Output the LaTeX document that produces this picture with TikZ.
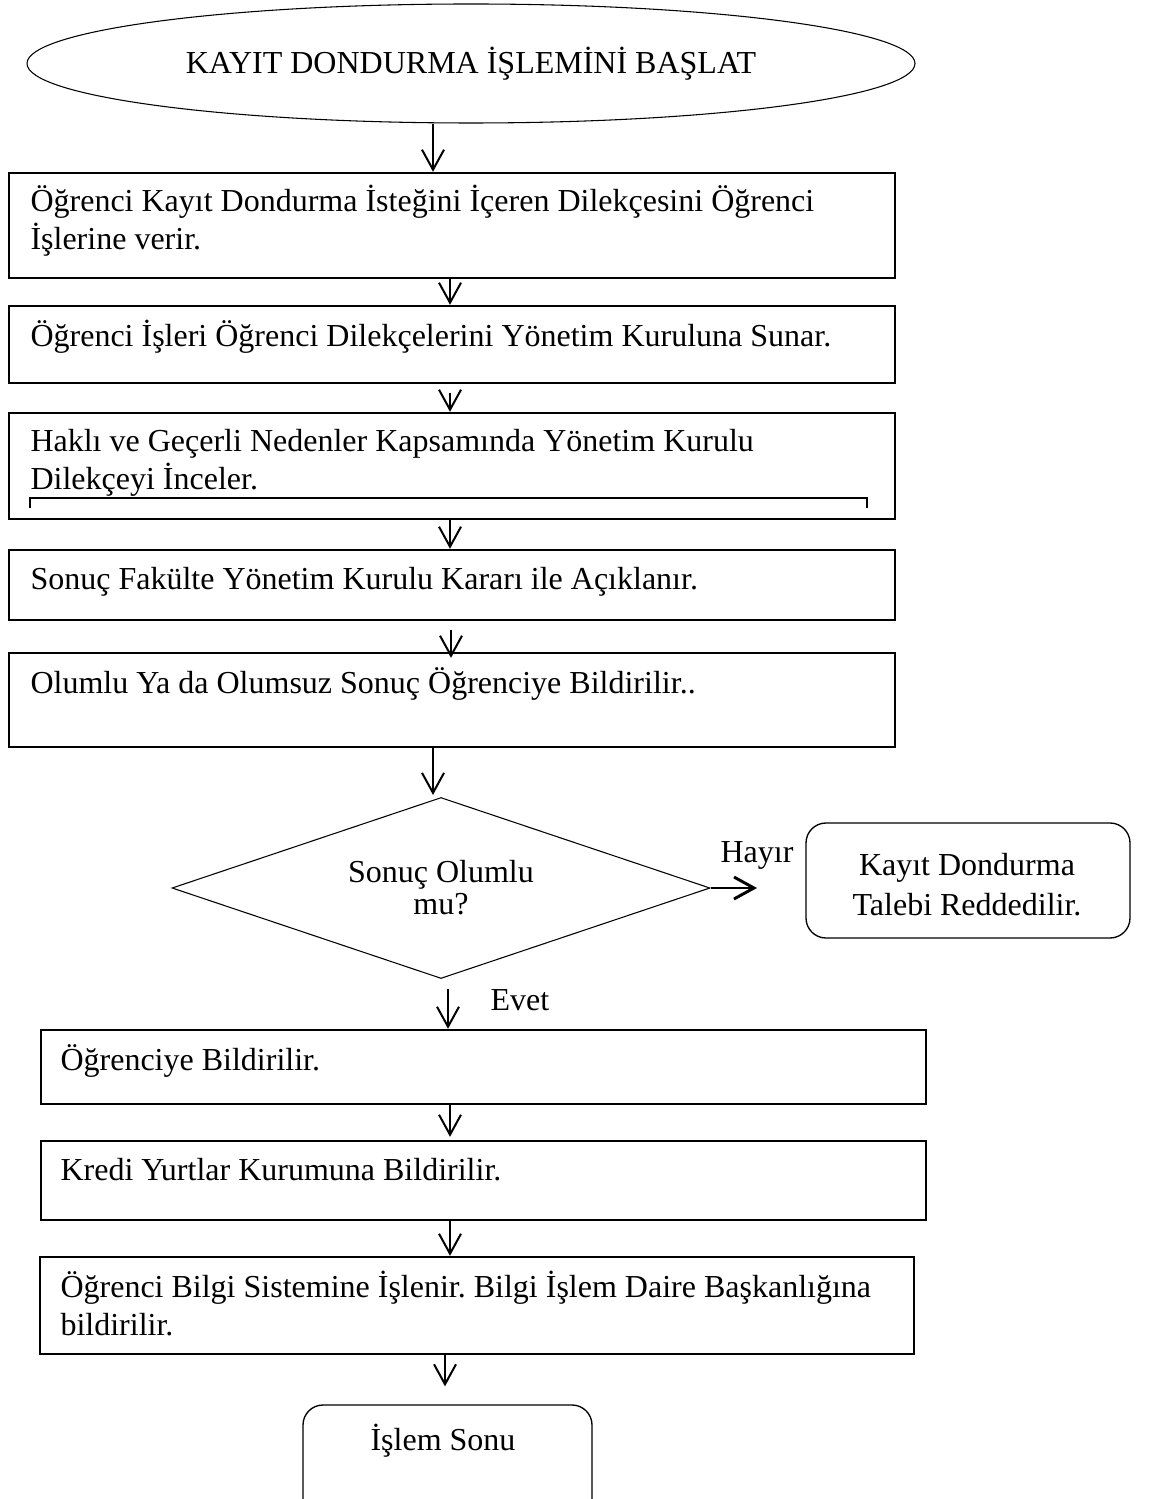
\documentclass[tikz,border=0pt]{standalone}
\usepackage{fontspec}
\setmainfont{Liberation Serif}
\usetikzlibrary{arrows.meta,shapes.geometric,calc}
\frenchspacing
\begin{document}
% one unit = 0.375pt, y grows downwards
\begin{tikzpicture}[x=0.375pt,y=-0.375pt,
  every node/.style={font=\fontsize{12}{14.3}\selectfont},
  stepbox/.style={draw, line width=0.9pt, rectangle, inner sep=0pt},
  roundbox/.style={draw, line width=0.5pt, rectangle, rounded corners=7.5pt, inner sep=0pt},
  txt/.style={anchor=base west, inner sep=0pt, text width=330pt, align=flush left},
  ctxt/.style={anchor=base, inner sep=0pt, text width=120pt, align=flush center},
  arr/.style={line width=0.75pt, -{Straight Barb[length=7.5pt,width=8.25pt]}},
]
\path[use as bounding box] (0,0) rectangle (1152,1499);
\clip (0,0) rectangle (1152,1499);

% columns of the vertical connectors
\coordinate (xa) at (433,0);
\coordinate (xb) at (450,0);
\coordinate (xc) at (448,0);
\coordinate (xd) at (445,0);
\coordinate (xe) at (451,0);

% start
\node[ellipse, draw, line width=0.4pt, minimum width=333pt, minimum height=44.625pt, inner sep=0pt]
  (start) at (471,63.5) {KAYIT DONDURMA İŞLEMİNİ BAŞLAT};

% process steps
\node[stepbox, minimum width=332.25pt, minimum height=39.375pt] (b1) at (452,225.5) {};
\node[txt] (t1) at (30,211.7) {Öğrenci Kayıt Dondurma İsteğini İçeren Dilekçesini Öğrenci\\İşlerine verir.};

\node[stepbox, minimum width=332.25pt, minimum height=28.875pt] (b2) at (452,344.5) {};
\node[txt] (t2) at (30,346.7) {Öğrenci İşleri Öğrenci Dilekçelerini Yönetim Kuruluna Sunar.};

\node[stepbox, minimum width=332.25pt, minimum height=39.75pt] (b3) at (452,466) {};
\node[txt] (t3) at (30,451.7) {Haklı ve Geçerli Nedenler Kapsamında Yönetim Kurulu\\Dilekçeyi İnceler.};
\draw[line width=0.4pt] (30,508) -- (30,498) -- (867,498) -- (867,508);

\node[stepbox, minimum width=332.25pt, minimum height=26.25pt] (b4) at (452,585) {};
\node[txt] (t4) at (30,590) {Sonuç Fakülte Yönetim Kurulu Kararı ile Açıklanır.};

\node[stepbox, minimum width=332.25pt, minimum height=35.25pt] (b5) at (452,700) {};
\node[txt] (t5) at (30,693) {Olumlu Ya da Olumsuz Sonuç Öğrenciye Bildirilir..};

% decision
\node[diamond, draw, line width=0.4pt, minimum width=201.75pt, minimum height=67.875pt, inner sep=0pt]
  (dec) at (441,888) {};
\node[ctxt, font=\fontsize{12}{12}\selectfont] (dect) at (441,882) {Sonuç Olumlu\\mu?};

\node[roundbox, minimum width=121.5pt, minimum height=43.125pt] (rej) at (968,880.5) {};
\node[ctxt, font=\fontsize{12}{15}\selectfont] (rejt) at (967,875) {Kayıt Dondurma\\Talebi Reddedilir.};

\coordinate (hy) at (757,888);
\node[anchor=base, inner sep=0pt] (hayir) at (757,862) {Hayır};
\node[anchor=base, inner sep=0pt] (evet) at (520,1010) {Evet};

\node[stepbox, minimum width=331.875pt, minimum height=27.75pt] (b6) at (483.5,1067) {};
\node[txt] (t6) at (60,1070) {Öğrenciye Bildirilir.};

\node[stepbox, minimum width=331.875pt, minimum height=29.625pt] (b7) at (483.5,1180.5) {};
\node[txt] (t7) at (60,1180) {Kredi Yurtlar Kurumuna Bildirilir.};

\node[stepbox, minimum width=327.75pt, minimum height=36.375pt] (b8) at (477,1305.5) {};
\node[txt] (t8) at (60,1297) {Öğrenci Bilgi Sistemine İşlenir. Bilgi İşlem Daire Başkanlığına\\bildirilir.};

% end
\node[roundbox, minimum width=108.375pt, minimum height=43.125pt] (endbox) at (447.5,1462.5) {};
\node[anchor=base, inner sep=0pt] (endt) at (443,1450) {İşlem Sonu};

% connectors
\draw[arr] (start.south -| xa) -- (b1.north -| xa);
\draw[arr] (b1.south -| xb) -- (b2.north -| xb);
\draw[arr] ($(b2.south -| xb)+(0,9)$) -- (b3.north -| xb);
\draw[arr] (b3.south -| xb) -- (b4.north -| xb);
\draw[arr] ($(b4.south -| xe)+(0,9)$) -- ($(b5.north -| xe)+(0,6)$);
\draw[arr] (b5.south -| xa) -- ($(dec.north -| xa)+(0,-2)$);
\draw[arr, line width=1.1pt] (dec.east) -- (hy);
\draw[arr] ($(dec.south -| xc)+(0,10)$) -- (b6.north -| xc);
\draw[arr] (b6.south -| xb) -- ($(b7.north -| xb)+(0,-3)$);
\draw[arr] (b7.south -| xb) -- (b8.north -| xb);
\draw[arr] (b8.south -| xd) -- ($(endbox.north -| xd)+(0,-18)$);
\end{tikzpicture}
\end{document}
